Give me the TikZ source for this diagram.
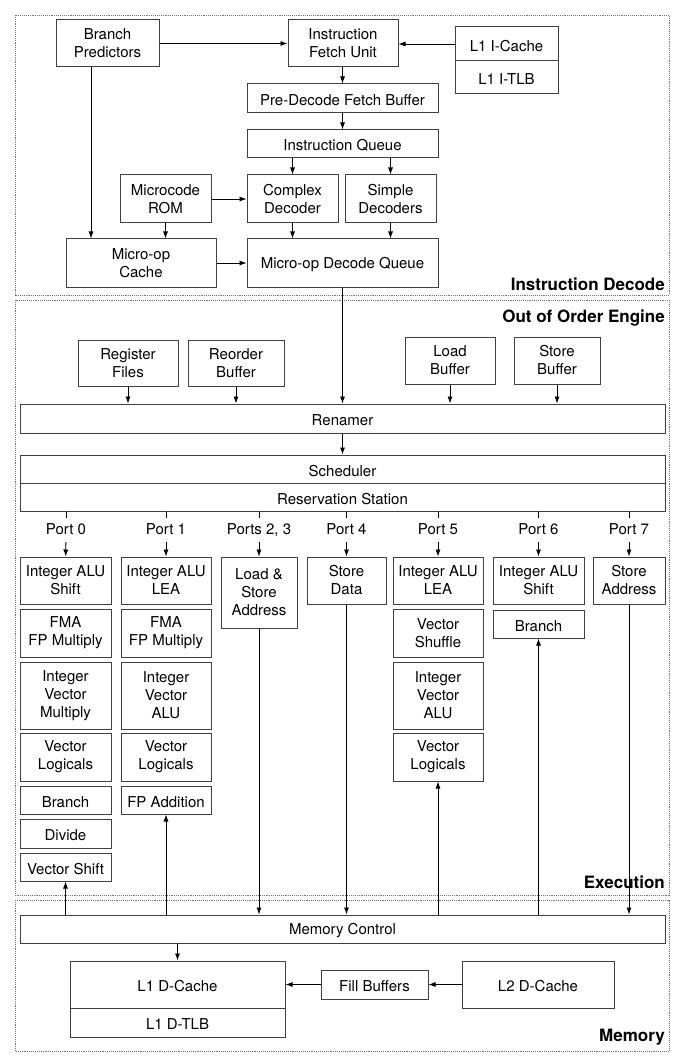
\documentclass[tikz,border=0pt]{standalone}
\usepackage{fontspec}
\setmainfont{TeX Gyre Heros}
\usetikzlibrary{arrows.meta}

\begin{document}
\begin{tikzpicture}[x=1pt, y=-1pt,
  font=\fontsize{15}{18}\selectfont,
  blk/.style 2 args={draw=black!75, line width=1pt, align=center, inner sep=0pt,
    minimum width=#1pt, minimum height=#2pt, execute at begin node=\rule{0pt}{14.5pt}},
  region/.style={draw=black!55, line width=0.9pt, densely dotted},
  title/.style={font=\fontsize{17}{20}\selectfont\bfseries, anchor=east, inner sep=0pt},
  port/.style={inner sep=0pt, outer sep=5pt, text height=11pt, text depth=3pt},
  link/.style={-{Latex[length=7pt,width=5pt]}, line width=0.8pt},
  tick/.style={line width=0.8pt}]

\useasboundingbox (0,0) rectangle (692,1064);

\draw[region] (15,15) rectangle (669,295);
\draw[region] (15,300) rectangle (669,895);
\draw[region] (15,900) rectangle (669,1051);

\node[title] (tdec) at (665,284) {Instruction Decode};
\node[title] (tooo) at (665,318) {Out of Order Engine};
\node[title] (texe) at (665,882) {Execution};
\node[title] (tmem) at (665,1037) {Memory};

% instruction decode
\node[blk={103}{47}] (bp) at (107.5,43.5) {Branch\\Predictors};
\node[blk={110}{47}] (ifu) at (343,43.5) {Instruction\\Fetch Unit};
\node[blk={103}{34}] (icache) at (506.5,44) {L1 I-Cache};
\node[blk={103}{33}] (itlb) at (506.5,77.5) {L1 I-TLB};
\node[blk={191}{29}] (pdfb) at (342.5,98.5) {Pre-Decode Fetch Buffer};
\node[blk={191}{28}] (iq) at (342.5,144) {Instruction Queue};
\node[blk={91}{48}] (mrom) at (165.5,199) {Microcode\\ROM};
\node[blk={91}{48}] (cdec) at (292.5,199) {Complex\\Decoder};
\node[blk={91}{48}] (sdec) at (390.5,199) {Simple\\Decoders};
\node[blk={150}{48}] (moc) at (141,263) {Micro-op\\Cache};
\node[blk={191}{48}] (mdq) at (342.5,263) {Micro-op Decode Queue};

\draw[link] (bp) to (ifu);
\draw[link] (icache.west) to (icache.west -| ifu.east);
\draw[link] (ifu.south -| pdfb.north) to (pdfb.north);
\draw[link] (pdfb) to (iq);
\draw[link] (cdec.north |- iq.south) to (cdec.north);
\draw[link] (sdec.north |- iq.south) to (sdec.north);
\draw[link] (mrom) to (cdec);
\draw[link] ([xshift=-16.5pt]bp.south) to ([xshift=-16.5pt]bp.south |- moc.north);
\draw[link] (mrom) to (mrom.south |- moc.north);
\draw[link] (cdec) to (cdec.south |- mdq.north);
\draw[link] (sdec) to (sdec.south |- mdq.north);
\draw[link] (moc) to (mdq);

% out of order engine
\node[blk={100}{46}] (rf) at (128,363) {Register\\Files};
\node[blk={96}{46}] (rob) at (236,363) {Reorder\\Buffer};
\node[blk={90}{47}] (lb) at (450,360.5) {Load\\Buffer};
\node[blk={86}{47}] (sb) at (557,360.5) {Store\\Buffer};
\node[blk={645}{29}] (ren) at (342.5,418.5) {Renamer};
\node[blk={645}{28}] (sched) at (342.5,469) {Scheduler};
\node[blk={645}{28}] (rs) at (342.5,497) {Reservation Station};

\draw[link] (rf) to (rf.south |- ren.north);
\draw[link] (rob) to (rob.south |- ren.north);
\draw[link] (mdq) to (mdq.south |- ren.north);
\draw[link] (lb) to (lb.south |- ren.north);
\draw[link] (sb) to (sb.south |- ren.north);
\draw[link] (ren) to (sched);

\node[port] (p0) at (66,530) {Port 0};
\node[port] (p1) at (166,530) {Port 1};
\node[port] (p23) at (259,530) {Ports 2, 3};
\node[port] (p4) at (346.5,530) {Port 4};
\node[port] (p5) at (438,530) {Port 5};
\node[port] (p6) at (538.5,530) {Port 6};
\node[port] (p7) at (629,530) {Port 7};

\draw[tick] (p0.north |- rs.south) to (p0.north);
\draw[tick] (p1.north |- rs.south) to (p1.north);
\draw[tick] (p23.north |- rs.south) to (p23.north);
\draw[tick] (p4.north |- rs.south) to (p4.north);
\draw[tick] (p5.north |- rs.south) to (p5.north);
\draw[tick] (p6.north |- rs.south) to (p6.north);
\draw[tick] (p7.north |- rs.south) to (p7.north);

% execution units
\node[blk={91}{47}] (e0a) at (65.5,580.5) {Integer ALU\\Shift};
\node[blk={91}{48}] (e0b) at (65.5,633) {FMA\\FP Multiply};
\node[blk={91}{67}] (e0c) at (65.5,695.5) {Integer\\Vector\\Multiply};
\node[blk={91}{48}] (e0d) at (65.5,757) {Vector\\Logicals};
\node[blk={91}{28}] (e0e) at (65.5,800) {Branch};
\node[blk={91}{29}] (e0f) at (65.5,833.5) {Divide};
\node[blk={91}{28}] (e0g) at (65.5,867) {Vector Shift};

\node[blk={90}{47}] (e1a) at (166,580.5) {Integer ALU\\LEA};
\node[blk={90}{48}] (e1b) at (166,633) {FMA\\FP Multiply};
\node[blk={90}{67}] (e1c) at (166,695.5) {Integer\\Vector\\ALU};
\node[blk={90}{48}] (e1d) at (166,757) {Vector\\Logicals};
\node[blk={90}{28}] (e1e) at (166,800) {FP Addition};

\node[blk={76}{71}] (e2) at (259,592.5) {Load \&\\Store\\Address};

\node[blk={79}{47}] (e3) at (346.5,580.5) {Store\\Data};

\node[blk={90}{47}] (e4a) at (438,580.5) {Integer ALU\\LEA};
\node[blk={90}{48}] (e4b) at (438,633) {Vector\\Shuffle};
\node[blk={90}{67}] (e4c) at (438,695.5) {Integer\\Vector\\ALU};
\node[blk={90}{48}] (e4d) at (438,757) {Vector\\Logicals};

\node[blk={91}{47}] (e5a) at (538.5,580.5) {Integer ALU\\Shift};
\node[blk={91}{28}] (e5b) at (538.5,624) {Branch};

\node[blk={72}{47}] (e6) at (629,580.5) {Store\\Address};

\draw[link] (p0) to (e0a);
\draw[link] (p1) to (e1a);
\draw[link] (p23) to (e2);
\draw[link] (p4) to (e3);
\draw[link] (p5) to (e4a);
\draw[link] (p6) to (e5a);
\draw[link] (p7) to (e6);

% memory
\node[blk={645}{28}] (mc) at (342.5,929) {Memory Control};
\node[blk={215}{47}] (l1d) at (177.5,984.5) {L1 D-Cache};
\node[blk={215}{29}] (dtlb) at (177.5,1022.5) {L1 D-TLB};
\node[blk={107}{29}] (fb) at (374.5,984.5) {Fill Buffers};
\node[blk={152}{47}] (l2) at (538,984.5) {L2 D-Cache};

\draw[link] (e0g.south |- mc.north) to (e0g);
\draw[link] (e1e.south |- mc.north) to (e1e);
\draw[link] (e4d.south |- mc.north) to (e4d);
\draw[link] (e5b.south |- mc.north) to (e5b);
\draw[link] (e2) to (e2.south |- mc.north);
\draw[link] (e3) to (e3.south |- mc.north);
\draw[link] (e6) to (e6.south |- mc.north);
\draw[link] (l1d.north |- mc.south) to (l1d);
\draw[link] (l2) to (fb);
\draw[link] (fb) to (l1d);

\end{tikzpicture}
\end{document}
